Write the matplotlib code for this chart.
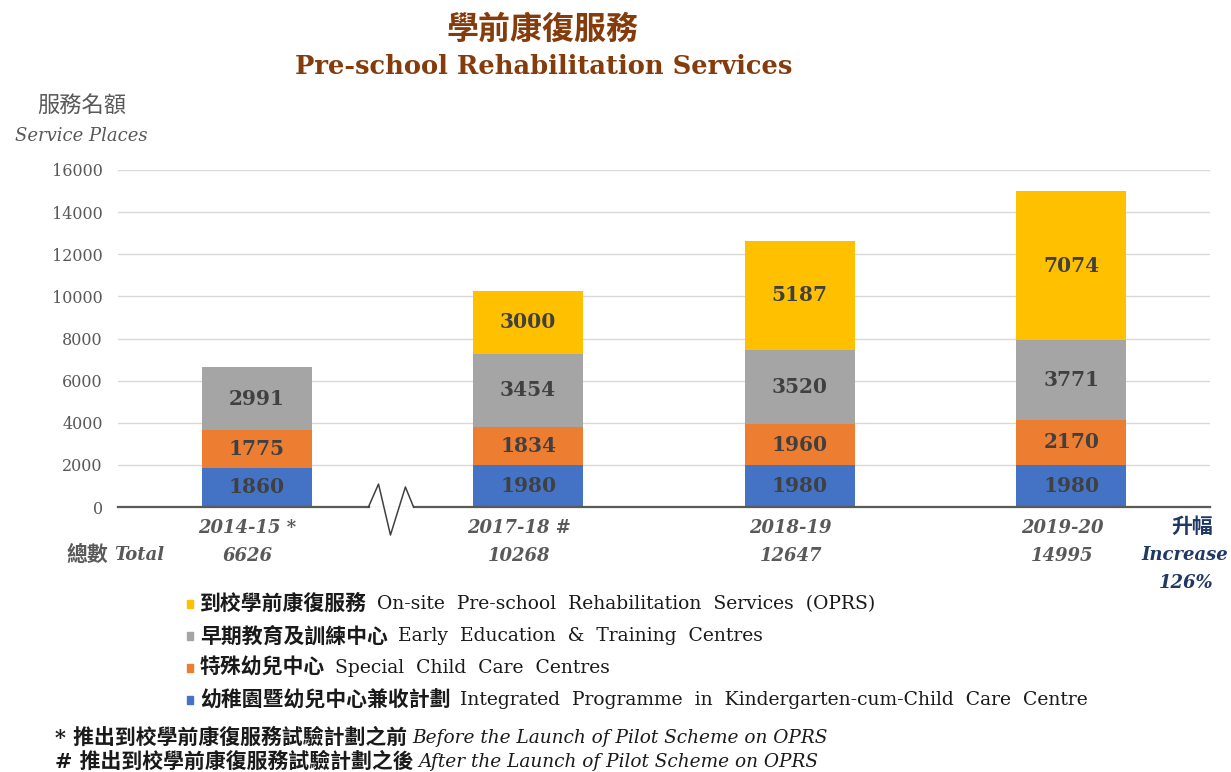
import matplotlib
matplotlib.use('Agg')
import matplotlib.pyplot as plt
import numpy as np

# data
years = ['2014-15 *', '2017-18 #', '2018-19', '2019-20']
totals = ['6626', '10268', '12647', '14995']
ip_kccc = [1860, 1980, 1980, 1980]
sccc = [1775, 1834, 1960, 2170]
eetc = [2991, 3454, 3520, 3771]
oprs = [0, 3000, 5187, 7074]
yticks = [0, 2000, 4000, 6000, 8000, 10000, 12000, 14000, 16000]

series = [
    (ip_kccc, '#4472C4', '幼稚園暨幼兒中心兼收計劃', 'Integrated  Programme  in  Kindergarten-cum-Child  Care  Centre'),
    (sccc, '#ED7D31', '特殊幼兒中心', 'Special  Child  Care  Centres'),
    (eetc, '#A5A5A5', '早期教育及訓練中心', 'Early  Education  &  Training  Centres'),
    (oprs, '#FFC000', '到校學前康復服務', 'On-site  Pre-school  Rehabilitation  Services  (OPRS)'),
]
notes = [('* 推出到校學前康復服務試驗計劃之前', 'Before the Launch of Pilot Scheme on OPRS'),
         ('# 推出到校學前康復服務試驗計劃之後', 'After the Launch of Pilot Scheme on OPRS')]

fam = ['DejaVu Serif', 'Noto Sans CJK TC']
W, H = 1231, 772
fig = plt.figure(figsize=(W / 100, H / 100), dpi=100)
ax = fig.add_axes([118 / W, 1 - 507 / H, (1210 - 118) / W, (507 - 170) / H])

def px(x, y):
    return x / W, 1 - y / H

x = np.arange(len(years))
bottom = np.zeros(len(years))
for vals, col, zh, en in series:
    vals = np.array(vals)
    ax.bar(x, vals, width=0.405, bottom=bottom, color=col, zorder=3)
    for i, v in enumerate(vals):
        if v > 0:
            ax.text(x[i], bottom[i] + v / 2, str(v), ha='center', va='center',
                    fontsize=14.5, fontweight='bold', color='#404040',
                    family=fam, zorder=4)
    bottom += vals

ax.set_xlim(-0.51, 3.51)
ax.set_ylim(0, 16000)
ax.set_yticks(yticks)
ax.set_yticklabels([str(t) for t in yticks], family=fam, fontsize=11.5, color='#595959')
ax.tick_params(axis='y', length=0, pad=11)
ax.set_xticks([])
for s in ax.spines.values():
    s.set_visible(False)
ax.grid(axis='y', color='#D9D9D9', linewidth=1, zorder=0)

# baseline with axis break between first and second category
brk = 0.493
ax.plot([-0.51, brk - 0.08], [0, 0], color='#595959', lw=1.6, zorder=5, clip_on=False)
ax.plot([brk + 0.085, 3.51], [0, 0], color='#595959', lw=1.6, zorder=5, clip_on=False)
ax.plot([brk - 0.081, brk - 0.044, brk, brk + 0.055, brk + 0.085],
        [0, 1090, -1330, 950, 0], color='#404040', lw=1.1, zorder=5, clip_on=False)

# category labels and totals
for i in range(len(years)):
    xf = (118 + (x[i] + 0.51) / 4.02 * (1210 - 118) - 9) / W
    fig.text(xf, 1 - 528 / H, years[i], ha='center', va='center', fontsize=13,
             fontweight='bold', style='italic', color='#595959', family=fam)
    fig.text(xf, 1 - 556 / H, totals[i], ha='center', va='center', fontsize=13,
             fontweight='bold', style='italic', color='#595959', family=fam)
fig.text(*px(66, 555), '總數', ha='left', va='center', fontsize=15,
         fontweight='bold', color='#595959', family=fam)
fig.text(*px(114, 555), 'Total', ha='left', va='center', fontsize=13,
         fontweight='bold', style='italic', color='#595959', family=fam)

# increase note
fig.text(*px(1192, 527), '升幅', ha='center', va='center', fontsize=15,
         fontweight='bold', style='italic', color='#1F3864', family=fam)
fig.text(*px(1185, 555), 'Increase', ha='center', va='center', fontsize=13,
         fontweight='bold', style='italic', color='#1F3864', family=fam)
fig.text(*px(1186, 583), '126%', ha='center', va='center', fontsize=13,
         fontweight='bold', style='italic', color='#1F3864', family=fam)

# titles
fig.text(*px(543, 30), '學前康復服務', ha='center', va='center', fontsize=23,
         fontweight='bold', color='#843C0C', family=fam)
fig.text(*px(544, 67), 'Pre-school Rehabilitation Services', ha='center', va='center',
         fontsize=18.5, fontweight='bold', color='#843C0C', family=fam)
fig.text(*px(82, 107), '服務名額', ha='center', va='center', fontsize=16,
         style='italic', color='#595959', family=fam)
fig.text(*px(81, 136), 'Service Places', ha='center', va='center', fontsize=13,
         style='italic', color='#595959', family=fam)

# legend (top to bottom in reverse stack order)
fig.canvas.draw()
rend = fig.canvas.get_renderer()
for k, (vals, col, zh, en) in enumerate(series[::-1]):
    yy = 604 + k * 32
    fig.patches.append(plt.Rectangle(px(187, yy + 4), 6 / W, 8 / H, color=col,
                                     transform=fig.transFigure, figure=fig))
    t = fig.text(*px(200, yy), zh, ha='left', va='center', fontsize=15,
                 fontweight='bold', color='#1a1a1a', family=fam)
    bb = t.get_window_extent(renderer=rend)
    fig.text((bb.x1 + 10) / W, 1 - yy / H, en, ha='left', va='center', fontsize=13.5,
             color='#1a1a1a', family=fam)

# footnotes
for k, (zh, en) in enumerate(notes):
    yy = 738 + k * 24
    t = fig.text(*px(55, yy), zh, ha='left', va='center', fontsize=15,
                 fontweight='bold', color='#1a1a1a', family=fam)
    bb = t.get_window_extent(renderer=rend)
    fig.text((bb.x1 + 5) / W, 1 - yy / H, en, ha='left', va='center', fontsize=13.3,
             style='italic', color='#1a1a1a', family=fam)

fig.savefig('out.png', dpi=100)
